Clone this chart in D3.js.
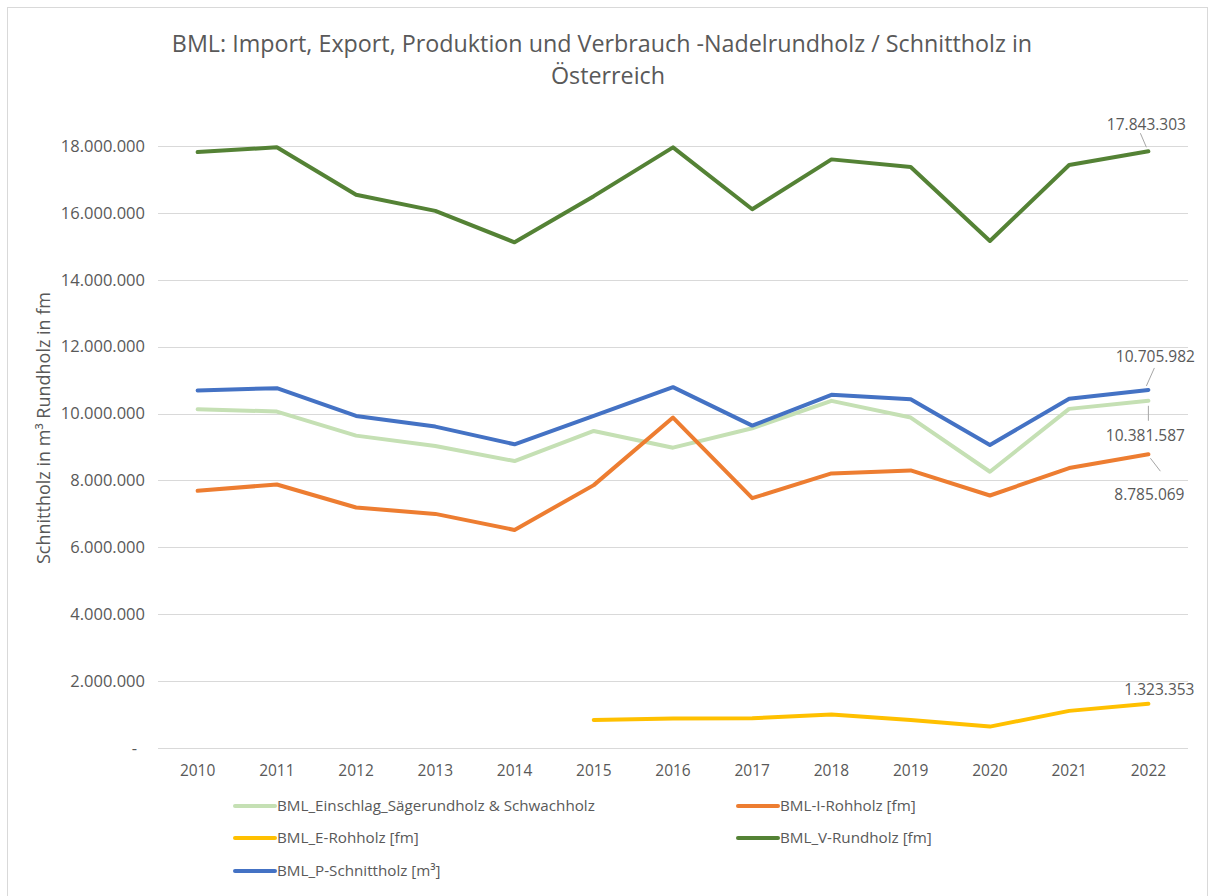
<!DOCTYPE html>
<html>
<head>
<meta charset="utf-8">
<script src="https://cdn.jsdelivr.net/npm/d3@7"></script>
<style>
  body { margin: 0; background: #fff; }
  text { font-family: "Open Sans", "DejaVu Sans", sans-serif; fill: #595959; }
</style>
</head>
<body>
<div id="chart"></div>
<script>
// years on the x axis
var years = ["2010","2011","2012","2013","2014","2015","2016","2017","2018","2019","2020","2021","2022"];

// series values (last point from the labels)
var einschlag = [10130000, 10060000, 9340000, 9030000, 8580000, 9480000, 8980000, 9560000, 10380000, 9880000, 8260000, 10140000, 10381587];
var iRohholz  = [7690000, 7880000, 7190000, 7000000, 6520000, 7860000, 9880000, 7470000, 8210000, 8300000, 7550000, 8370000, 8785069];
var eRohholz  = [null, null, null, null, null, 840000, 880000, 890000, 1000000, 840000, 640000, 1110000, 1323353];
var vRundholz = [17820000, 17960000, 16540000, 16060000, 15120000, 16500000, 17960000, 16110000, 17600000, 17370000, 15160000, 17430000, 17843303];
var pSchnitt  = [10690000, 10760000, 9930000, 9610000, 9080000, 9930000, 10790000, 9640000, 10560000, 10430000, 9060000, 10440000, 10705982];

var yTicks = [0, 2000000, 4000000, 6000000, 8000000, 10000000, 12000000, 14000000, 16000000, 18000000];

var seriesNames = ["BML_Einschlag_Sägerundholz & Schwachholz", "BML-I-Rohholz [fm]", "BML_E-Rohholz [fm]", "BML_V-Rundholz [fm]", "BML_P-Schnittholz [m³]"];
var seriesColors = ["#C5E0B4", "#ED7D31", "#FFC000", "#548235", "#4472C4"];
var seriesValues = [einschlag, iRohholz, eRohholz, vRundholz, pSchnitt];

var W = 1209, H = 896;
var margin = {top: 146, right: 21, bottom: 148, left: 158};
var width = W - margin.left - margin.right,
    height = H - margin.top - margin.bottom;

var svg = d3.select("#chart").append("svg")
  .attr("width", W).attr("height", H);

// outer chart frame
svg.append("rect")
  .attr("x", 7.5).attr("y", 7.5)
  .attr("width", 1200).attr("height", 900)
  .style("fill", "none").style("stroke", "#d9d9d9");

var g = svg.append("g")
  .attr("transform", "translate(" + margin.left + "," + margin.top + ")");

var x = d3.scaleBand().domain(years).range([0, width]);
var y = d3.scaleLinear().domain([0, 18000000]).range([height, 0]);

var de = d3.formatLocale({decimal: ",", thousands: ".", grouping: [3], currency: ["", "€"]});
var fmt = de.format(",d");
var tickFmt = function(d) { return d === 0 ? "-" : fmt(d); };

// gridlines
g.selectAll(".grid")
  .data(yTicks).enter()
  .append("line")
  .attr("x1", 0).attr("x2", width)
  .attr("y1", function(d) { return Math.round(y(d)) + 0.5; })
  .attr("y2", function(d) { return Math.round(y(d)) + 0.5; })
  .style("stroke", "#d9d9d9").style("stroke-width", 1);

// y axis labels
var yAxis = g.append("g")
  .call(d3.axisLeft(y).tickValues(yTicks).tickFormat(tickFmt).tickSize(0).tickPadding(13));
yAxis.select(".domain").remove();
yAxis.selectAll("text")
  .style("font-size", "16.5px").style("fill", "#595959")
  .attr("dx", function(d) { return d === 0 ? "-8" : "0"; });

// x axis labels
var xAxis = g.append("g")
  .attr("transform", "translate(0," + height + ")")
  .call(d3.axisBottom(x).tickSize(0).tickPadding(17));
xAxis.select(".domain").remove();
xAxis.selectAll("text").style("font-size", "15.5px").style("fill", "#595959");

// y axis title
svg.append("text")
  .attr("transform", "translate(50,428) rotate(-90)")
  .attr("text-anchor", "middle")
  .style("font-size", "18px")
  .text("Schnittholz in m³ Rundholz in fm");

// title
var title = svg.append("text")
  .attr("x", 602).attr("text-anchor", "middle")
  .style("font-size", "23.3px");
title.append("tspan").attr("x", 602).attr("y", 52)
  .text("BML: Import, Export, Produktion und Verbrauch -Nadelrundholz / Schnittholz in");
title.append("tspan").attr("x", 608).attr("y", 84).text("Österreich");

// lines
var line = d3.line()
  .defined(function(d) { return d != null; })
  .x(function(d, i) { return x(years[i]) + x.bandwidth() / 2; })
  .y(function(d) { return y(d); });

g.selectAll(".series")
  .data(seriesValues).enter()
  .append("path")
  .attr("d", line)
  .style("fill", "none")
  .style("stroke", function(d, i) { return seriesColors[i]; })
  .style("stroke-width", 4)
  .style("stroke-linejoin", "round")
  .style("stroke-linecap", "round");

// data labels on the last point
var last = years.length - 1;
var lx = x(years[last]) + x.bandwidth() / 2;
var labels = [
  {v: vRundholz[last], dx: -2, dy: -27, lead: [[-8, -18], [-2, -4]]},
  {v: pSchnitt[last], dx: 7, dy: -33, lead: [[-2, -4], [6, -22]]},
  {v: einschlag[last], dx: -3, dy: 35, lead: [[0, 5], [0, 20]]},
  {v: iRohholz[last], dx: 1, dy: 40, lead: [[2, 4], [12, 17]]},
  {v: eRohholz[last], dx: 11, dy: -14, lead: null}
];
labels.forEach(function(l) {
  var py = y(l.v);
  if (l.lead) {
    g.append("line")
      .attr("x1", lx + l.lead[0][0]).attr("y1", py + l.lead[0][1])
      .attr("x2", lx + l.lead[1][0]).attr("y2", py + l.lead[1][1])
      .style("stroke", "#a6a6a6").style("stroke-width", 1);
  }
  g.append("text")
    .attr("x", lx + l.dx).attr("y", py + l.dy)
    .attr("text-anchor", "middle").attr("dy", "0.35em")
    .style("font-size", "15.5px")
    .text(fmt(l.v));
});

// legend
var legendPos = [[235, 806], [738, 806], [235, 838], [738, 838], [235, 871]];
var leg = svg.selectAll(".legend")
  .data(seriesNames).enter()
  .append("g")
  .attr("transform", function(d, i) { return "translate(" + legendPos[i][0] + "," + legendPos[i][1] + ")"; });
leg.append("line")
  .attr("x1", 0).attr("x2", 40)
  .style("stroke", function(d, i) { return seriesColors[i]; })
  .style("stroke-width", 4).style("stroke-linecap", "round");
leg.append("text")
  .attr("x", 42).attr("dy", "0.35em")
  .style("font-size", "15.2px")
  .text(function(d) { return d; });
</script>
</body>
</html>
